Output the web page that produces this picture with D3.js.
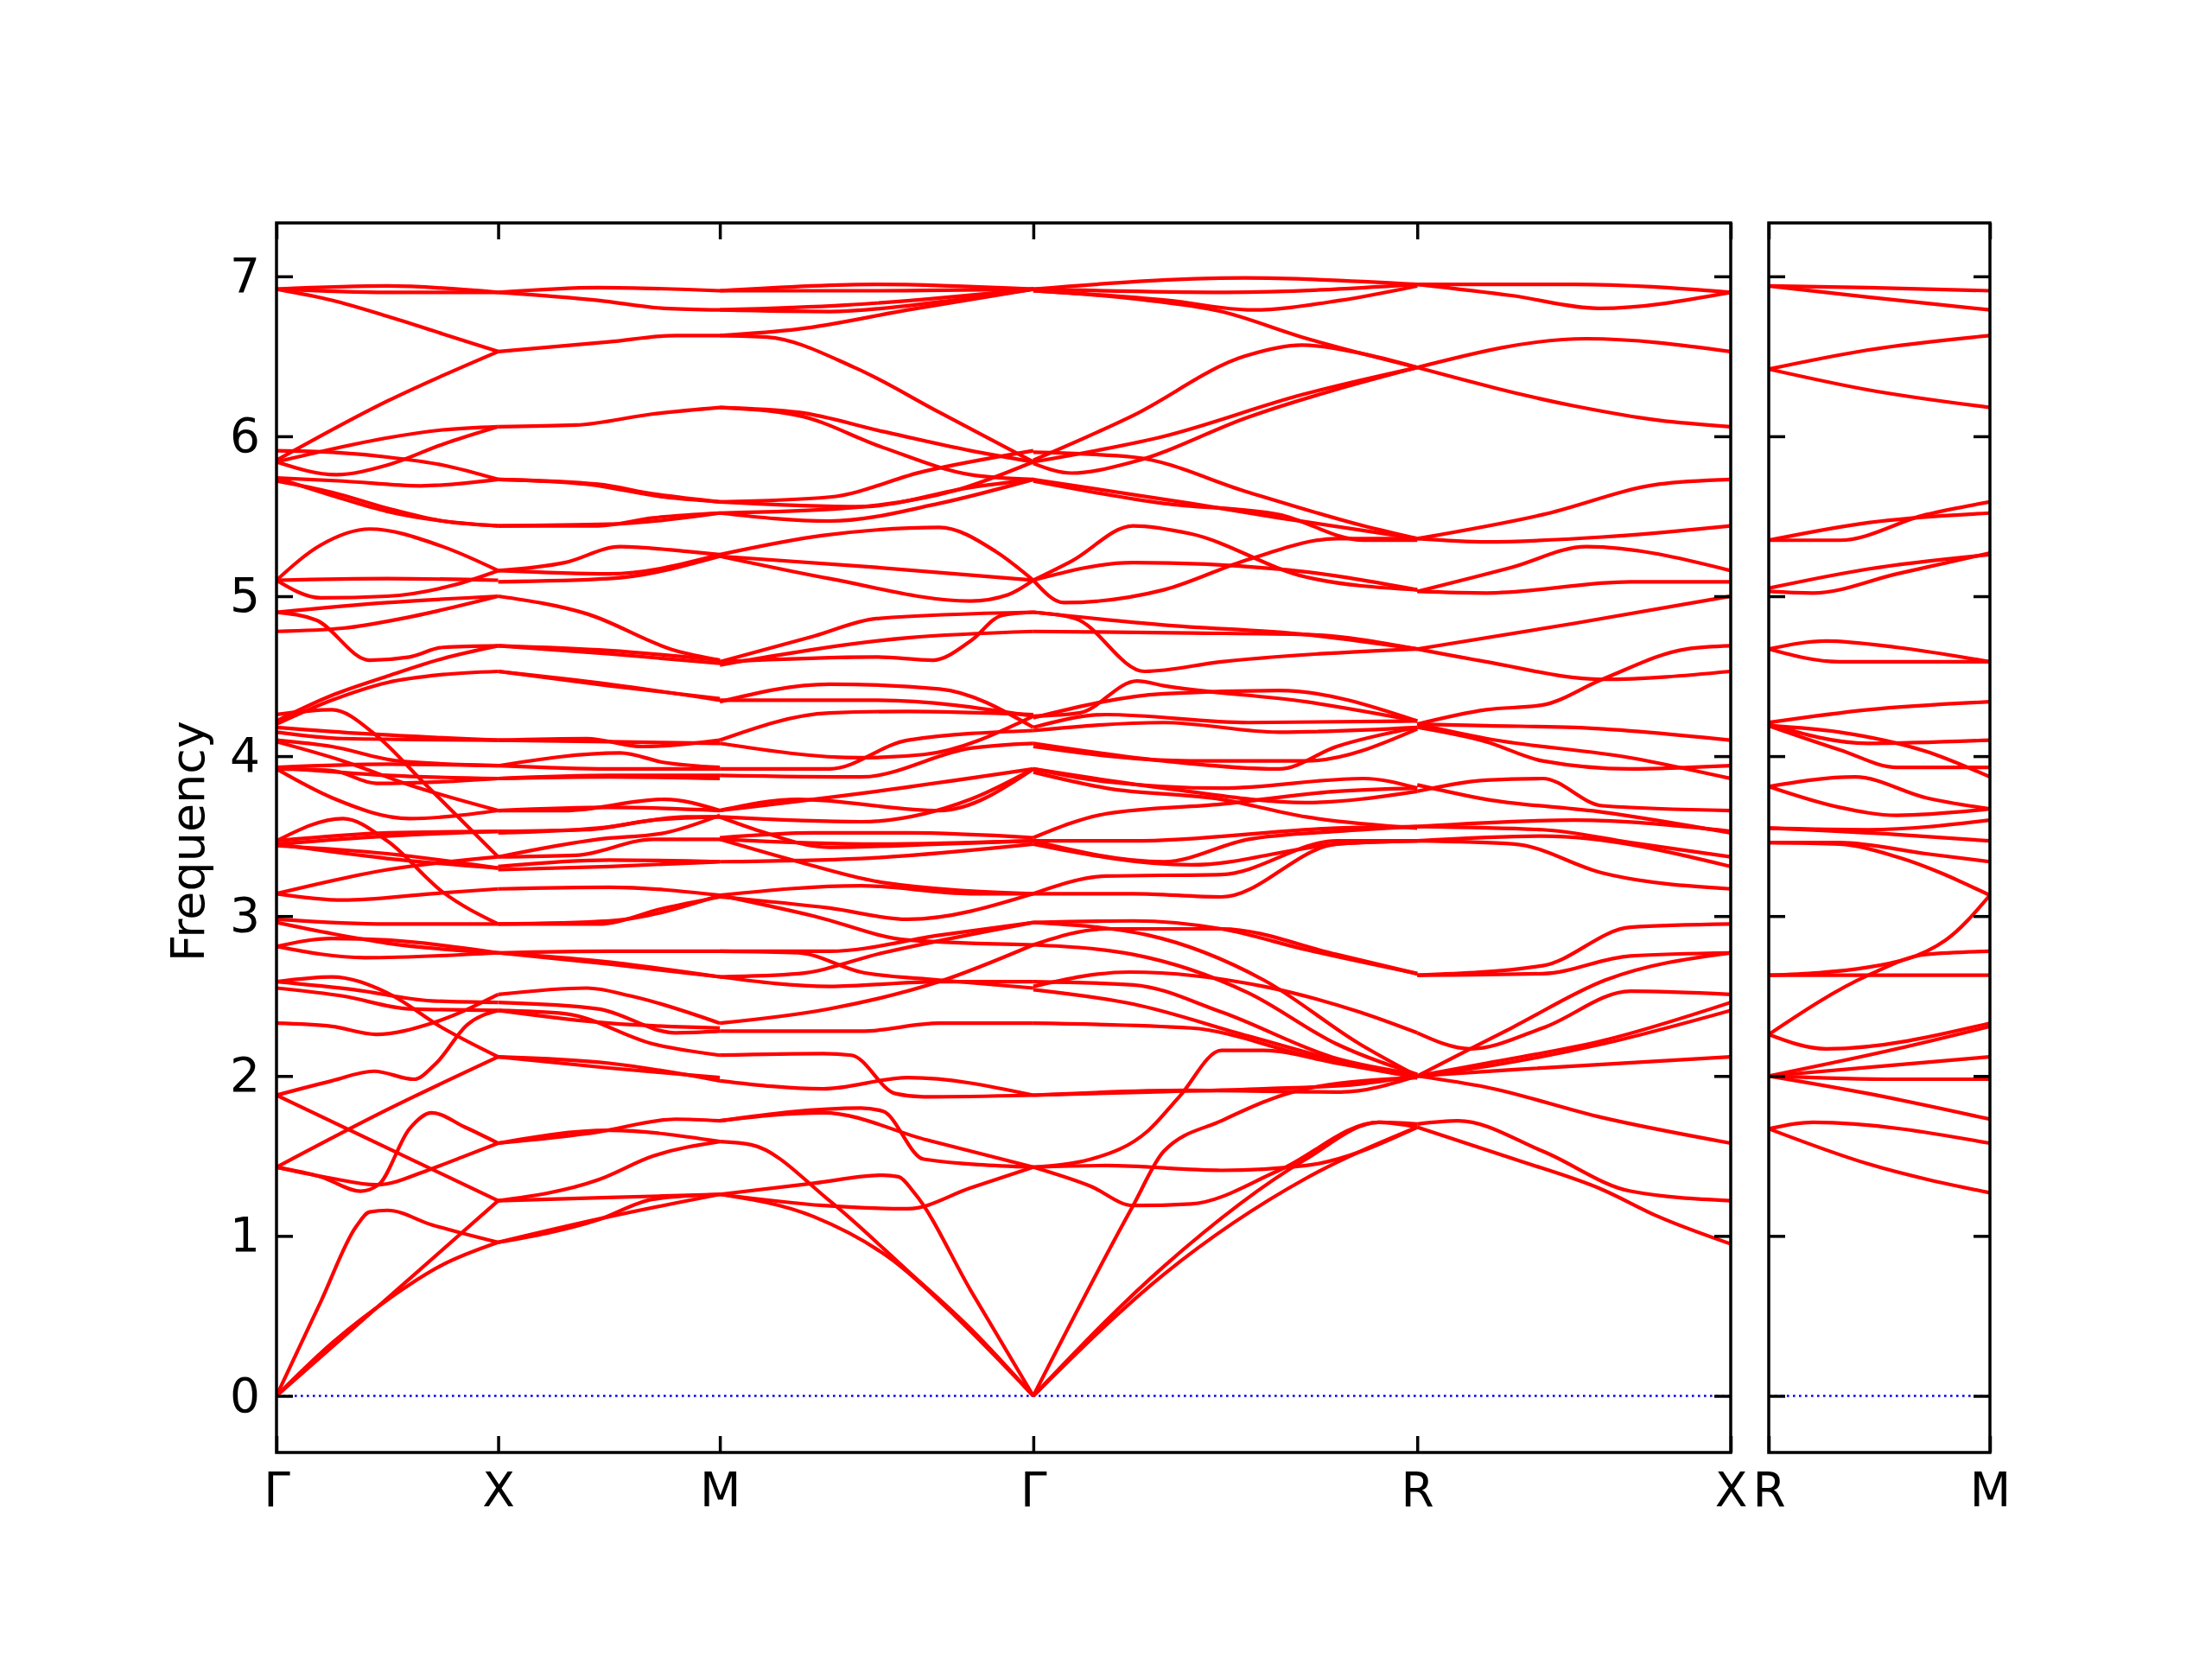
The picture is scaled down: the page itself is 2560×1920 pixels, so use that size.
<!DOCTYPE html>
<html>
<head>
<meta charset="utf-8">
<script src="https://cdn.jsdelivr.net/npm/d3@7"></script>
<style>
  body { margin: 0; background: #fff; }
  text { font-family: "DejaVu Sans", sans-serif; }
</style>
</head>
<body>
<svg id="chart" width="2560" height="1920"></svg>
<script>
// path positions of the high-symmetry points
const kNodes = [0, 1, 2, 3.414, 5.146, 6.560];
const kLabels = ["Γ", "X", "M", "Γ", "R", "X"];
const kNodes2 = [0, 1];
const kLabels2 = ["R", "M"];
const yTicks = [0, 1, 2, 3, 4, 5, 6, 7];

// bands of each segment as [fraction along segment, frequency]
const bandsGX = [
  [[0,6.92],[.5,6.94],[1,6.90]],
  [[0,6.92],[.5,6.90],[1,6.90]],
  [[0,6.92],[.25,6.85],[.5,6.75],[.75,6.64],[1,6.53]],
  [[0,5.85],[.5,6.22],[1,6.53]],
  [[0,5.84],[.25,5.92],[.5,5.99],[.75,6.04],[1,6.06]],
  [[0,5.84],[.27,5.76],[.5,5.82],[.75,5.95],[1,6.06]],
  [[0,5.91],[.25,5.90],[.5,5.87],[.75,5.82],[1,5.73]],
  [[0,5.74],[.3,5.72],[.65,5.69],[1,5.73]],
  [[0,5.74],[.25,5.63],[.5,5.53],[.75,5.47],[1,5.44]],
  [[0,5.72],[.25,5.65],[.5,5.55],[.75,5.47],[1,5.44]],
  [[0,5.10],[.2,5.32],[.42,5.42],[.75,5.31],[1,5.16]],
  [[0,5.10],[.5,5.11],[1,5.10]],
  [[0,5.10],[.2,4.99],[.5,5.00],[.8,5.07],[1,5.16]],
  [[0,4.90],[.5,4.96],[1,5.00]],
  [[0,4.90],[.18,4.85],[.42,4.60],[.6,4.62],[.75,4.68],[1,4.69]],
  [[0,4.78],[.3,4.80],[.6,4.87],[1,5.00]],
  [[0,4.22],[.25,4.38],[.5,4.50],[.75,4.61],[1,4.69]],
  [[0,4.20],[.25,4.35],[.5,4.46],[.75,4.51],[1,4.53]],
  [[0,4.26],[.25,4.29],[.45,4.13],[.66,3.84],[1,3.37]],
  [[0,4.15],[.3,4.11],[1,4.10]],
  [[0,4.18],[.4,4.14],[1,4.10]],
  [[0,4.10],[.25,4.06],[.55,3.97],[1,3.94]],
  [[0,4.09],[.3,3.97],[.6,3.82],[1,3.66]],
  [[0,3.93],[.5,3.95],[1,3.94]],
  [[0,3.92],[.25,3.91],[.45,3.83],[.75,3.84],[1,3.86]],
  [[0,3.93],[.5,3.88],[1,3.86]],
  [[0,3.92],[.25,3.74],[.6,3.61],[1,3.66]],
  [[0,3.47],[.3,3.61],[.5,3.47],[.75,3.15],[1,2.95]],
  [[0,3.47],[.5,3.52],[1,3.53]],
  [[0,3.45],[.5,3.50],[1,3.53]],
  [[0,3.45],[.5,3.36],[1,3.30]],
  [[0,3.44],[.5,3.39],[1,3.30]],
  [[0,3.14],[.5,3.29],[1,3.37]],
  [[0,3.14],[.3,3.10],[.7,3.14],[1,3.17]],
  [[0,2.98],[.5,2.95],[1,2.95]],
  [[0,2.96],[.25,2.89],[.5,2.83],[1,2.77]],
  [[0,2.81],[.25,2.86],[.5,2.85],[1,2.77]],
  [[0,2.81],[.4,2.74],[1,2.77]],
  [[0,2.59],[.25,2.62],[.5,2.52],[.75,2.30],[1,2.12]],
  [[0,2.55],[.3,2.50],[.6,2.42],[1,2.41]],
  [[0,2.59],[.35,2.54],[.7,2.47],[1,2.46]],
  [[0,2.33],[.25,2.31],[.45,2.26],[.7,2.33],[1,2.51]],
  [[0,1.88],[.25,1.97],[.44,2.03],[.62,1.98],[.72,2.08],[.86,2.32],[1,2.41]],
  [[0,1.88],[.5,1.55],[1,1.22]],
  [[0,1.43],[.5,1.79],[1,2.12]],
  [[0,1.43],[.2,1.37],[.38,1.28],[.46,1.32],[.6,1.67],[.7,1.77],[.85,1.68],[1,1.58]],
  [[0,1.43],[.25,1.36],[.45,1.32],[.7,1.42],[.85,1.50],[1,1.58]],
  [[0,0],[.2,0.59],[.36,1.06],[.42,1.15],[.5,1.16],[.7,1.07],[1,0.96]],
  [[0,0],[.5,0.61],[1,1.22]],
  [[0,0],[.25,0.33],[.5,0.60],[.75,0.82],[1,0.96]]
];

const bandsXM = [
  [[0,6.90],[.45,6.93],[1,6.91]],
  [[0,6.90],[.45,6.85],[.75,6.80],[1,6.79]],
  [[0,6.53],[.5,6.59],[.8,6.63],[1,6.63]],
  [[0,6.06],[.35,6.07],[.7,6.14],[1,6.18]],
  [[0,5.73],[.45,5.70],[.7,5.64],[1,5.59]],
  [[0,5.73],[.4,5.70],[.75,5.62],[1,5.59]],
  [[0,5.44],[.45,5.44],[.7,5.49],[1,5.52]],
  [[0,5.44],[.5,5.45],[1,5.52]],
  [[0,5.16],[.3,5.21],[.55,5.31],[.85,5.28],[1,5.26]],
  [[0,5.16],[.5,5.14],[1,5.26]],
  [[0,5.09],[.5,5.11],[1,5.25]],
  [[0,5.00],[.4,4.89],[.8,4.66],[1,4.60]],
  [[0,4.69],[.5,4.64],[1,4.58]],
  [[0,4.69],[.5,4.66],[1,4.60]],
  [[0,4.53],[.5,4.45],[1,4.35]],
  [[0,4.53],[.5,4.44],[1,4.36]],
  [[0,4.10],[.4,4.11],[.65,4.06],[1,4.10]],
  [[0,4.10],[.5,4.09],[1,4.08]],
  [[0,3.94],[.55,4.02],[.75,3.96],[1,3.93]],
  [[0,3.94],[.5,3.92],[1,3.92]],
  [[0,3.86],[.5,3.88],[1,3.88]],
  [[0,3.86],[.5,3.87],[1,3.86]],
  [[0,3.66],[.5,3.68],[1,3.66]],
  [[0,3.66],[.3,3.66],[.75,3.73],[1,3.66]],
  [[0,3.52],[.45,3.55],[.85,3.62],[1,3.62]],
  [[0,3.53],[.4,3.54],[.7,3.60],[1,3.62]],
  [[0,3.37],[.35,3.38],[.7,3.48],[1,3.48]],
  [[0,3.37],[.45,3.48],[.75,3.52],[1,3.63]],
  [[0,3.31],[.5,3.35],[1,3.34]],
  [[0,3.29],[.5,3.31],[1,3.34]],
  [[0,3.17],[.5,3.18],[1,3.13]],
  [[0,2.95],[.45,2.95],[.75,3.05],[1,3.12]],
  [[0,2.95],[.5,2.97],[1,3.13]],
  [[0,2.77],[.5,2.78],[1,2.78]],
  [[0,2.77],[.45,2.72],[1,2.62]],
  [[0,2.77],[.5,2.70],[1,2.62]],
  [[0,2.51],[.4,2.55],[.6,2.50],[1,2.33]],
  [[0,2.46],[.45,2.42],[.8,2.27],[1,2.28]],
  [[0,2.41],[.3,2.39],[.7,2.20],[1,2.13]],
  [[0,2.41],[.5,2.33],[1,2.30]],
  [[0,2.12],[.5,2.08],[1,1.97]],
  [[0,2.12],[.5,2.05],[1,1.99]],
  [[0,1.58],[.45,1.65],[.8,1.73],[1,1.72]],
  [[0,1.58],[.5,1.66],[1,1.59]],
  [[0,1.22],[.45,1.35],[.7,1.50],[1,1.59]],
  [[0,1.22],[.5,1.24],[1,1.26]],
  [[0,0.96],[.45,1.10],[.7,1.23],[1,1.26]],
  [[0,0.96],[.5,1.12],[1,1.26]]
];

const bandsMG = [
  [[0,6.91],[.5,6.95],[1,6.92]],
  [[0,6.91],[.5,6.91],[1,6.92]],
  [[0,6.79],[.35,6.78],[.7,6.84],[1,6.92]],
  [[0,6.79],[.4,6.82],[1,6.92]],
  [[0,6.63],[.25,6.67],[.6,6.79],[1,6.92]],
  [[0,6.63],[.15,6.62],[.43,6.43],[.7,6.15],[1,5.84]],
  [[0,6.18],[.25,6.15],[.52,6.03],[.8,5.91],[1,5.84]],
  [[0,6.18],[.25,6.13],[.52,5.93],[.8,5.76],[1,5.73]],
  [[0,5.59],[.35,5.62],[.65,5.78],[1,5.91]],
  [[0,5.59],[.45,5.56],[.8,5.68],[1,5.73]],
  [[0,5.52],[.35,5.47],[.7,5.58],[1,5.73]],
  [[0,5.52],[.4,5.55],[.75,5.66],[1,5.84]],
  [[0,5.26],[.33,5.38],[.7,5.43],[.88,5.28],[1,5.10]],
  [[0,5.25],[.5,5.18],[1,5.10]],
  [[0,5.25],[.35,5.11],[.8,4.97],[.92,5.01],[1,5.10]],
  [[0,4.59],[.5,4.62],[.68,4.60],[.8,4.72],[.9,4.88],[1,4.90]],
  [[0,4.59],[.3,4.75],[.5,4.86],[1,4.90]],
  [[0,4.57],[.6,4.74],[1,4.78]],
  [[0,4.34],[.35,4.45],[.7,4.42],[1,4.18]],
  [[0,4.35],[.5,4.35],[1,4.25]],
  [[0,4.10],[.35,4.27],[.6,4.28],[1,4.26]],
  [[0,4.08],[.45,3.99],[.65,4.01],[1,4.25]],
  [[0,3.92],[.35,3.92],[.6,4.10],[1,4.16]],
  [[0,3.88],[.45,3.87],[.8,4.05],[1,4.08]],
  [[0,3.66],[.25,3.73],[.7,3.66],[1,3.92]],
  [[0,3.62],[.45,3.59],[.8,3.73],[1,3.92]],
  [[0,3.66],[.5,3.78],[1,3.92]],
  [[0,3.49],[.3,3.52],[.6,3.52],[1,3.49]],
  [[0,3.62],[.1,3.55],[.35,3.43],[.7,3.45],[1,3.47]],
  [[0,3.48],[.25,3.34],[.52,3.21],[1,3.14]],
  [[0,3.48],[.5,3.45],[1,3.47]],
  [[0,3.34],[.45,3.36],[1,3.45]],
  [[0,3.13],[.45,3.19],[.8,3.14],[1,3.14]],
  [[0,3.12],[.35,3.05],[.6,2.98],[1,3.14]],
  [[0,2.78],[.35,2.78],[.7,2.88],[1,2.96]],
  [[0,2.62],[.25,2.64],[.52,2.77],[1,2.96]],
  [[0,2.62],[.35,2.56],[.7,2.59],[1,2.59]],
  [[0,2.33],[.35,2.42],[.7,2.59],[1,2.82]],
  [[0,2.78],[.25,2.77],[.45,2.65],[.7,2.60],[1,2.55]],
  [[0,3.13],[.3,3.00],[.6,2.85],[1,2.82]],
  [[0,2.28],[.45,2.28],[.7,2.33],[1,2.33]],
  [[0,2.13],[.33,2.14],[.42,2.13],[.56,1.89],[.65,1.87],[1,1.88]],
  [[0,1.97],[.33,1.92],[.6,1.99],[1,1.88]],
  [[0,1.72],[.45,1.80],[.52,1.78],[.65,1.48],[1,1.43]],
  [[0,1.72],[.33,1.77],[.66,1.60],[1,1.43]],
  [[0,1.26],[.33,1.19],[.6,1.17],[.8,1.30],[1,1.43]],
  [[0,1.26],[.3,1.33],[.52,1.38],[.57,1.37],[.62,1.27],[.8,0.66],[1,0]],
  [[0,1.59],[.1,1.57],[.35,1.22],[.6,0.78],[.8,0.42],[1,0]],
  [[0,1.26],[.3,1.12],[.55,0.85],[.75,0.50],[1,0]]
];

const bandsGR = [
  [[0,6.92],[.55,6.99],[1,6.95]],
  [[0,6.92],[.5,6.90],[1,6.95]],
  [[0,6.91],[.35,6.85],[.57,6.79],[.8,6.85],[1,6.94]],
  [[0,6.91],[.26,6.86],[.49,6.78],[.7,6.62],[1,6.43]],
  [[0,5.85],[.26,6.13],[.55,6.50],[.7,6.57],[.85,6.52],[1,6.43]],
  [[0,5.84],[.34,6.00],[.7,6.26],[1,6.43]],
  [[0,5.83],[.1,5.77],[.26,5.84],[.56,6.12],[1,6.43]],
  [[0,5.90],[.26,5.87],[.56,5.65],[.86,5.44],[1,5.36]],
  [[0,5.73],[.41,5.58],[.64,5.49],[1,5.36]],
  [[0,5.72],[.34,5.58],[.64,5.51],[.86,5.35],[1,5.35]],
  [[0,5.10],[.1,5.22],[.26,5.44],[.41,5.39],[.71,5.12],[1,5.04]],
  [[0,5.10],[.26,5.21],[.64,5.17],[1,5.04]],
  [[0,5.10],[.08,4.96],[.34,5.04],[.56,5.23],[.79,5.36],[1,5.36]],
  [[0,4.90],[.34,4.82],[.71,4.76],[1,4.67]],
  [[0,4.78],[.41,4.77],[.71,4.76],[1,4.67]],
  [[0,4.90],[.11,4.86],[.29,4.53],[.49,4.59],[1,4.67]],
  [[0,4.25],[.12,4.27],[.27,4.47],[.34,4.44],[.71,4.34],[1,4.22]],
  [[0,4.24],[.34,4.39],[.64,4.41],[1,4.22]],
  [[0,4.18],[.19,4.26],[.56,4.21],[1,4.22]],
  [[0,4.16],[.34,4.21],[.64,4.15],[1,4.18]],
  [[0,4.08],[.34,3.97],[.64,3.92],[.79,4.06],[1,4.18]],
  [[0,4.06],[.41,3.97],[.71,3.97],[1,4.17]],
  [[0,3.92],[.19,3.84],[.49,3.80],[.86,3.86],[1,3.80]],
  [[0,3.92],[.34,3.80],[.71,3.71],[1,3.78]],
  [[0,3.90],[.19,3.80],[.49,3.73],[.71,3.62],[1,3.55]],
  [[0,3.49],[.19,3.64],[.49,3.70],[.79,3.78],[1,3.80]],
  [[0,3.47],[.26,3.47],[.79,3.55],[1,3.56]],
  [[0,3.47],[.34,3.34],[.56,3.48],[.79,3.53],[1,3.56]],
  [[0,3.45],[.41,3.32],[.79,3.45],[1,3.47]],
  [[0,3.14],[.26,3.14],[.49,3.12],[.79,3.45],[1,3.47]],
  [[0,3.14],[.19,3.25],[.49,3.26],[.79,3.47],[1,3.47]],
  [[0,2.96],[.26,2.97],[.49,2.92],[.71,2.79],[1,2.64]],
  [[0,2.82],[.19,2.92],[.49,2.92],[.79,2.76],[1,2.64]],
  [[0,2.82],[.26,2.76],[.56,2.52],[.79,2.20],[1,2.01]],
  [[0,2.96],[.3,2.88],[.6,2.60],[.85,2.20],[1,2.00]],
  [[0,2.59],[.26,2.57],[.49,2.40],[.79,2.11],[1,2.01]],
  [[0,2.54],[.26,2.45],[.56,2.25],[.86,2.06],[1,2.00]],
  [[0,2.33],[.41,2.30],[.71,2.13],[1,1.99]],
  [[0,2.56],[.25,2.65],[.6,2.56],[.85,2.40],[1,2.27]],
  [[0,1.88],[.3,1.90],[.6,1.92],[.85,1.95],[1,2.00]],
  [[0,1.88],[.4,1.91],[.8,1.90],[1,2.00]],
  [[0,1.43],[.15,1.48],[.3,1.66],[.38,1.87],[.49,2.16],[.6,2.16],[.79,2.08],[1,1.99]],
  [[0,1.43],[.19,1.44],[.49,1.41],[.71,1.44],[1,1.68]],
  [[0,1.43],[.15,1.31],[.26,1.19],[.41,1.20],[.64,1.41],[.9,1.71],[1,1.68]],
  [[0,0],[.26,1.19],[.34,1.53],[.49,1.72],[.71,1.92],[1,1.99]],
  [[0,0],[.34,0.81],[.71,1.48],[.9,1.71],[1,1.70]],
  [[0,0],[.34,0.76],[.71,1.36],[1,1.68]]
];

const bandsRX = [
  [[0,6.95],[.5,6.95],[1,6.90]],
  [[0,6.95],[.3,6.88],[.58,6.80],[1,6.90]],
  [[0,6.43],[.54,6.61],[1,6.53]],
  [[0,6.43],[.5,6.19],[.77,6.10],[1,6.06]],
  [[0,5.36],[.4,5.51],[.77,5.70],[1,5.73]],
  [[0,5.36],[.22,5.34],[.59,5.37],[1,5.44]],
  [[0,5.03],[.3,5.18],[.54,5.31],[1,5.16]],
  [[0,5.03],[.22,5.02],[.68,5.09],[1,5.09]],
  [[0,4.67],[.5,4.83],[1,5.00]],
  [[0,4.67],[.22,4.59],[.59,4.48],[1,4.53]],
  [[0,4.20],[.22,4.29],[.4,4.32],[.59,4.48],[.86,4.67],[1,4.69]],
  [[0,4.20],[.22,4.19],[.5,4.18],[1,4.10]],
  [[0,4.18],[.22,4.09],[.4,3.97],[.68,3.92],[1,3.94]],
  [[0,4.20],[.22,4.11],[.68,3.99],[1,3.86]],
  [[0,3.78],[.22,3.85],[.4,3.86],[.59,3.69],[1,3.66]],
  [[0,3.82],[.22,3.73],[.59,3.65],[1,3.52]],
  [[0,3.56],[.5,3.60],[1,3.53]],
  [[0,3.56],[.4,3.54],[.68,3.46],[1,3.37]],
  [[0,3.47],[.4,3.50],[1,3.31]],
  [[0,3.47],[.31,3.45],[.59,3.27],[1,3.17]],
  [[0,2.63],[.4,2.69],[.68,2.93],[1,2.95]],
  [[0,2.63],[.4,2.64],[.68,2.75],[1,2.77]],
  [[0,2.27],[.17,2.17],[.4,2.30],[.68,2.53],[1,2.51]],
  [[0,2.00],[.3,2.30],[.6,2.60],[1,2.77]],
  [[0,2.00],[.22,2.08],[.59,2.22],[1,2.46]],
  [[0,2.00],[.22,2.06],[.59,2.20],[1,2.41]],
  [[0,2.00],[.31,2.04],[1,2.12]],
  [[0,2.00],[.22,1.93],[.59,1.74],[1,1.58]],
  [[0,1.70],[.13,1.72],[.4,1.53],[.68,1.28],[1,1.22]],
  [[0,1.68],[.31,1.48],[.59,1.29],[.77,1.12],[1,0.95]]
];

const bandsRM = [
  [[0,6.94],[.45,6.93],[1,6.91]],
  [[0,6.94],[.45,6.87],[1,6.79]],
  [[0,6.42],[.45,6.54],[1,6.63]],
  [[0,6.42],[.45,6.29],[1,6.18]],
  [[0,5.35],[.45,5.46],[1,5.52]],
  [[0,5.35],[.32,5.35],[.71,5.51],[1,5.59]],
  [[0,5.05],[.45,5.17],[1,5.26]],
  [[0,5.03],[.2,5.02],[.58,5.14],[1,5.27]],
  [[0,4.67],[.26,4.72],[.58,4.68],[1,4.59]],
  [[0,4.67],[.32,4.59],[1,4.59]],
  [[0,4.21],[.45,4.29],[1,4.34]],
  [[0,4.20],[.45,4.08],[1,4.10]],
  [[0,4.19],[.32,4.15],[.71,4.03],[1,3.87]],
  [[0,4.19],[.32,4.04],[.58,3.93],[1,3.93]],
  [[0,3.81],[.39,3.87],[.71,3.74],[1,3.67]],
  [[0,3.81],[.32,3.68],[.58,3.63],[1,3.67]],
  [[0,3.55],[.45,3.54],[1,3.60]],
  [[0,3.55],[.58,3.51],[1,3.47]],
  [[0,3.46],[.32,3.46],[.71,3.39],[1,3.34]],
  [[0,3.46],[.32,3.45],[.58,3.37],[1,3.13]],
  [[0,2.63],[.45,2.68],[.8,2.85],[1,3.13]],
  [[0,2.63],[.5,2.63],[1,2.63]],
  [[0,2.26],[.45,2.63],[.71,2.76],[1,2.78]],
  [[0,2.26],[.26,2.17],[1,2.33]],
  [[0,2.00],[.58,2.17],[1,2.31]],
  [[0,2.00],[.58,2.07],[1,2.12]],
  [[0,2.00],[.58,1.98],[1,1.98]],
  [[0,2.00],[.45,1.89],[1,1.73]],
  [[0,1.67],[.2,1.71],[1,1.58]],
  [[0,1.67],[.45,1.45],[1,1.27]]
];

const mainSegments = [
  { from: 0, to: 1, bands: bandsGX },
  { from: 1, to: 2, bands: bandsXM },
  { from: 2, to: 3, bands: bandsMG },
  { from: 3, to: 4, bands: bandsGR },
  { from: 4, to: 5, bands: bandsRX }
];
const sideSegments = [{ from: 0, to: 1, bands: bandsRM }];

const svg = d3.select("#chart");
const plotTop = 258, plotBottom = 1681;
const mainBox = { left: 320, right: 2003 };
const sideBox = { left: 2047, right: 2303 };
const tickLen = 19;
const fontSize = 55;

let y = d3.scaleLinear().domain([-0.354, 7.334]).range([plotBottom, plotTop]);

function styleAxis(g) {
  g.select(".domain").remove();
  g.selectAll(".tick line").attr("stroke", "#000").attr("stroke-width", 3.5);
  g.selectAll(".tick text")
    .attr("fill", "#000")
    .style("font-family", "'DejaVu Sans', sans-serif")
    .style("font-size", fontSize + "px");
}

function drawPanel(box, nodes, labels, segments, showY, clipId) {
  let x = d3.scaleLinear().domain([nodes[0], nodes[nodes.length - 1]]).range([box.left, box.right]);

  svg.append("clipPath").attr("id", clipId)
    .append("rect")
    .attr("x", box.left).attr("y", plotTop)
    .attr("width", box.right - box.left).attr("height", plotBottom - plotTop);

  let plot = svg.append("g").attr("clip-path", `url(#${clipId})`);

  // zero line
  plot.append("line")
    .attr("x1", box.left).attr("x2", box.right)
    .attr("y1", y(0)).attr("y2", y(0))
    .attr("stroke", "#0000ff")
    .attr("stroke-width", 2.4)
    .attr("stroke-dasharray", "2.6,4.4");

  segments.forEach(seg => {
    let k0 = nodes[seg.from], k1 = nodes[seg.to];
    let line = d3.line()
      .x(d => x(k0 + d[0] * (k1 - k0)))
      .y(d => y(d[1]))
      .curve(d3.curveMonotoneX);
    plot.selectAll(null)
      .data(seg.bands)
      .enter()
      .append("path")
      .attr("d", line)
      .attr("fill", "none")
      .attr("stroke", "#ff0000")
      .attr("stroke-width", 4.2)
      .attr("stroke-linejoin", "round");
  });

  //   y ticks on both sides, pointing in
  let yLeft = d3.axisLeft(y).tickValues(yTicks).tickSize(-tickLen).tickPadding(19);
  if (!showY) yLeft.tickFormat("");
  svg.append("g").attr("transform", `translate(${box.left},0)`).call(yLeft).call(styleAxis);

  let yRight = d3.axisRight(y).tickValues(yTicks).tickSize(-tickLen).tickFormat("");
  svg.append("g").attr("transform", `translate(${box.right},0)`).call(yRight).call(styleAxis);

  //   x ticks on bottom (labelled) and top
  let xAxis = d3.axisBottom(x).tickValues(nodes)
    .tickFormat((d, i) => labels[i])
    .tickSize(-tickLen).tickPadding(23);
  svg.append("g").attr("transform", `translate(0,${plotBottom})`).call(xAxis).call(styleAxis);

  let xTop = d3.axisTop(x).tickValues(nodes).tickSize(-tickLen).tickFormat("");
  svg.append("g").attr("transform", `translate(0,${plotTop})`).call(xTop).call(styleAxis);

  svg.append("rect")
    .attr("x", box.left).attr("y", plotTop)
    .attr("width", box.right - box.left).attr("height", plotBottom - plotTop)
    .attr("fill", "none")
    .attr("stroke", "#000")
    .attr("stroke-width", 3.5);
}

drawPanel(mainBox, kNodes, kLabels, mainSegments, true, "clipMain");
drawPanel(sideBox, kNodes2, kLabels2, sideSegments, false, "clipSide");

svg.append("text")
  .attr("transform", `translate(236,${(plotTop + plotBottom) / 2 + 4}) rotate(-90)`)
  .attr("text-anchor", "middle")
  .style("font-size", "54px")
  .text("Frequency");
</script>
</body>
</html>
